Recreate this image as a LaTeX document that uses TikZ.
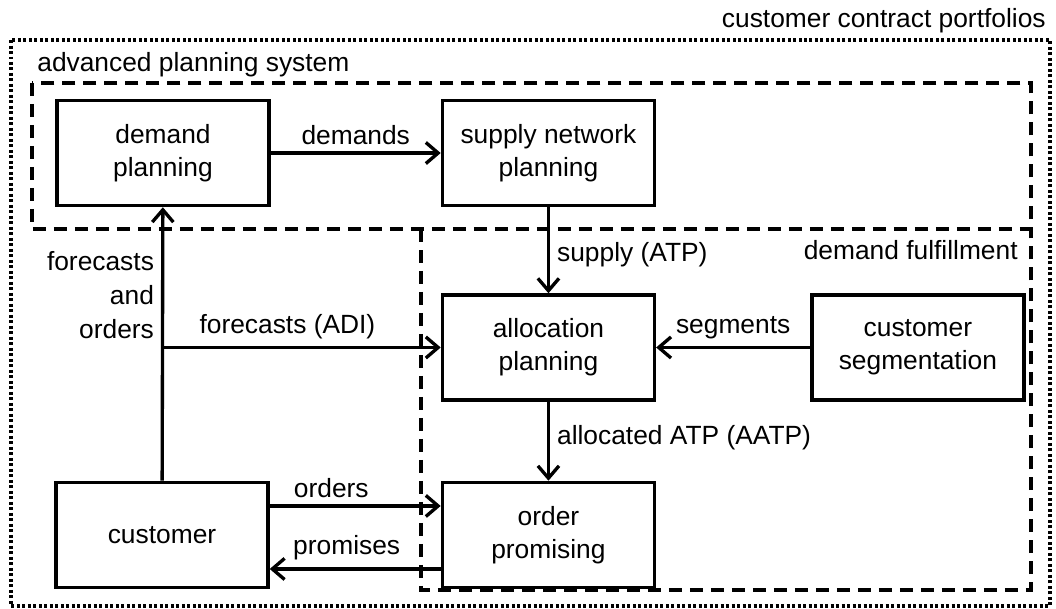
\documentclass[tikz,border=0pt]{standalone}
\usepackage{fontspec}
\setmainfont{Liberation Sans}
\usetikzlibrary{positioning, arrows.meta, calc}

\begin{document}
\begin{tikzpicture}[
  x=0.02cm, y=-0.02cm,
  block/.style={draw, line width=2pt, minimum width=4.24cm, minimum height=2.1cm,
                align=center, font=\fontsize{15}{19}\selectfont},
  arr/.style={-{Straight Barb[length=7pt, width=12pt]}, line width=1.9pt},
  lbl/.style={font=\fontsize{15}{19.3}\selectfont, inner sep=4pt},
  gbox/.style={line width=2pt, dash pattern=on 0.26cm off 0.16cm},
  obox/.style={line width=1.9pt, dash pattern=on 0.06cm off 0.05cm},
  title/.style={font=\fontsize{15}{17}\selectfont, inner sep=0pt},
]
\useasboundingbox (0,0) rectangle (1056,609);

% ===== PLANNING BLOCKS =====
\node[block] (dp) at (163,153) {demand\\planning};
\node[block, right=3.4cm of dp] (snp) {supply network\\planning};
\node[block, below=1.72cm of snp] (ap) {allocation\\planning};
\node[block, below=1.58cm of ap] (op) {order\\promising};
\node[block, right=3.08cm of ap] (cs) {customer\\segmentation};
\node[block, left=3.42cm of op] (cu) {customer};

% ===== FLOWS =====
\draw[arr] (dp) -- node[lbl, above] {demands} (snp);
\draw[arr] (snp) -- node[lbl, right, pos=0.55] {supply (ATP)} (ap);
\draw[arr] (cu) -- node[lbl, left, align=right, pos=0.68] {forecasts\\and\\orders} (dp);
\draw[arr] (cu.north |- ap.west) -- node[lbl, above, pos=0.45] {forecasts (ADI)} (ap.west);
\draw[arr] (cs) -- node[lbl, above] {segments} (ap);
\draw[arr] (ap) -- node[lbl, right, pos=0.46] {allocated ATP (AATP)} (op);

% customer <-> order promising
\draw[arr] ([yshift=0.58cm]cu.east) -- node[lbl, above, pos=0.36] {orders} ([yshift=0.58cm]op.west);
\draw[arr] ([yshift=-0.68cm]op.west) -- node[lbl, above, pos=0.55] {promises} ([yshift=-0.68cm]cu.east);

% ===== FRAMES =====
\draw[obox] (11,40) rectangle (1050,606);
\draw[gbox] (32,83) rectangle (1031,229);
\draw[gbox] (421,229) -- (421,590) -- (1031,590) -- (1031,229);

\node[title, anchor=base east] (ccp) at (1046,27) {customer contract portfolios};
\node[title, anchor=base west] (aps) at (37,71) {advanced planning system};
\node[title, anchor=base east] (dff) at (1018,259) {demand fulfillment};

\end{tikzpicture}
\end{document}
